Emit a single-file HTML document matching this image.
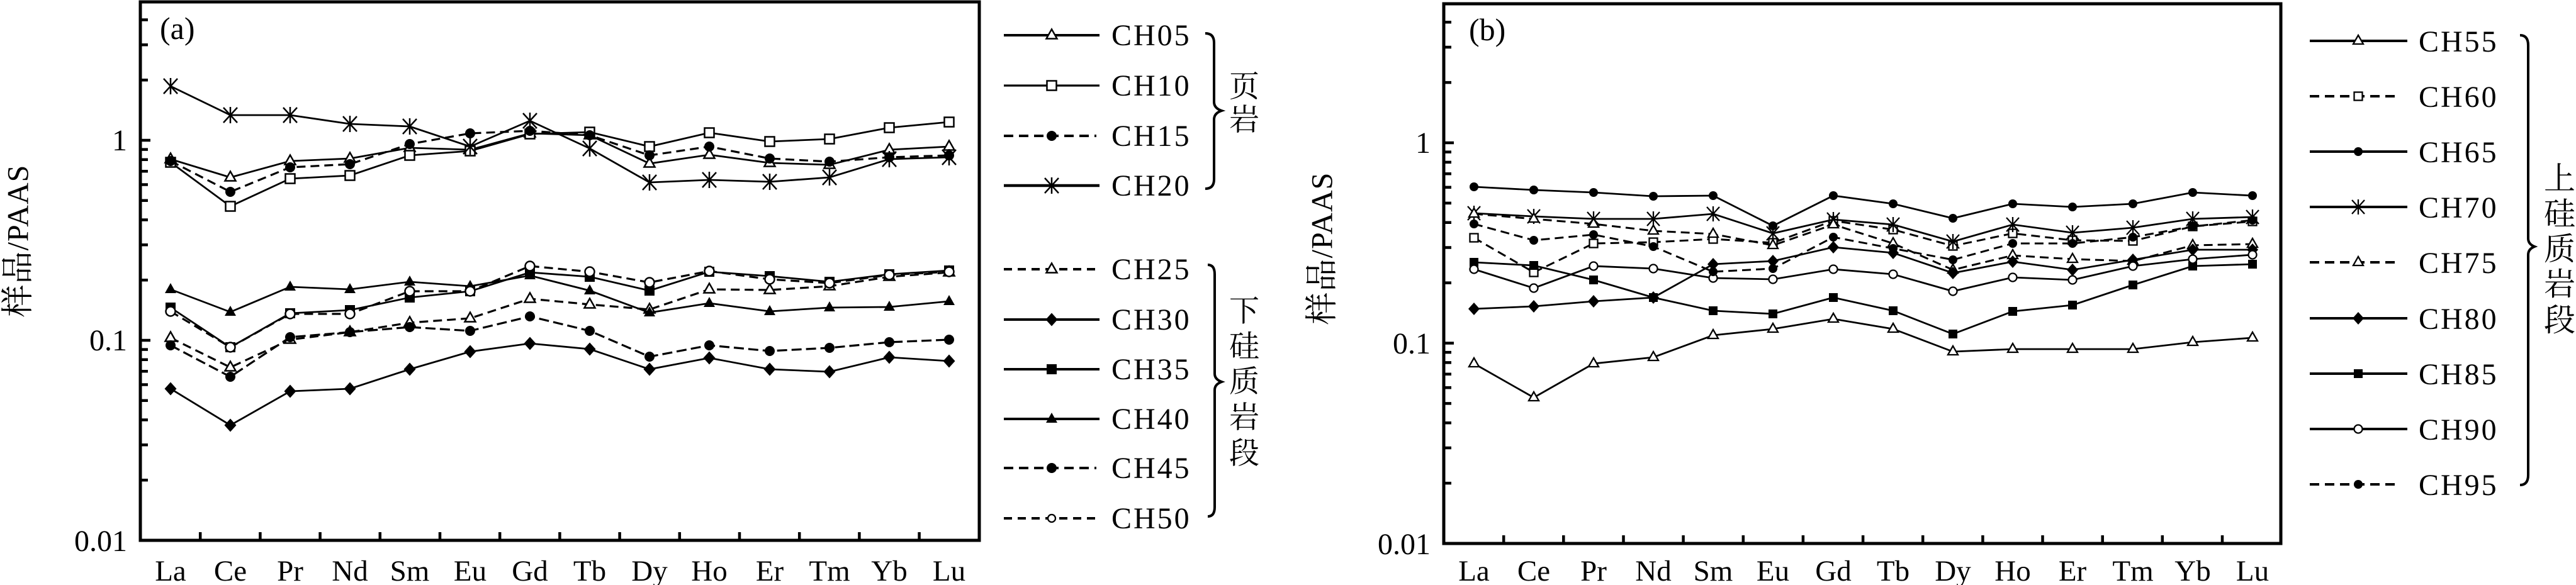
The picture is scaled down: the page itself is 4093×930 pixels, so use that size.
<!DOCTYPE html>
<html>
<head>
<meta charset="utf-8">
<style>
html,body{margin:0;padding:0;background:#fff;}
body{width:4093px;height:930px;overflow:hidden;}
svg{display:block;}
.t{font-family:"Liberation Serif","Noto Serif CJK SC",serif;fill:#000;}
</style>
</head>
<body>
<svg width="4093" height="930" viewBox="0 0 4093 930" xmlns="http://www.w3.org/2000/svg">
<defs>
  <!-- panel a markers -->
  <marker id="aTo" viewBox="-20 -20 40 40" markerWidth="40" markerHeight="40" refX="0" refY="0" markerUnits="userSpaceOnUse" orient="0"><polygon points="0,-9.5 8.5,5.5 -8.5,5.5" fill="#fff" stroke="#000" stroke-width="2.5"/></marker>
  <marker id="aTf" viewBox="-20 -20 40 40" markerWidth="40" markerHeight="40" refX="0" refY="0" markerUnits="userSpaceOnUse" orient="0"><polygon points="0,-10 9,6 -9,6" fill="#000"/></marker>
  <marker id="aSo" viewBox="-20 -20 40 40" markerWidth="40" markerHeight="40" refX="0" refY="0" markerUnits="userSpaceOnUse" orient="0"><rect x="-7.5" y="-7.5" width="15" height="15" fill="#fff" stroke="#000" stroke-width="2.5"/></marker>
  <marker id="aSf" viewBox="-20 -20 40 40" markerWidth="40" markerHeight="40" refX="0" refY="0" markerUnits="userSpaceOnUse" orient="0"><rect x="-8" y="-8" width="16" height="16" fill="#000"/></marker>
  <marker id="aCf" viewBox="-20 -20 40 40" markerWidth="40" markerHeight="40" refX="0" refY="0" markerUnits="userSpaceOnUse" orient="0"><circle r="8" fill="#000"/></marker>
  <marker id="aCo" viewBox="-20 -20 40 40" markerWidth="40" markerHeight="40" refX="0" refY="0" markerUnits="userSpaceOnUse" orient="0"><circle r="7.5" fill="#fff" stroke="#000" stroke-width="2.5"/></marker>
  <marker id="aD" viewBox="-20 -20 40 40" markerWidth="40" markerHeight="40" refX="0" refY="0" markerUnits="userSpaceOnUse" orient="0"><polygon points="0,-10.5 9.5,0 0,10.5 -9.5,0" fill="#000"/></marker>
  <marker id="aX" viewBox="-20 -20 40 40" markerWidth="40" markerHeight="40" refX="0" refY="0" markerUnits="userSpaceOnUse" orient="0"><g stroke="#000" stroke-width="2.5"><line x1="-11" y1="-12" x2="11" y2="12"/><line x1="11" y1="-12" x2="-11" y2="12"/><line x1="0" y1="-13" x2="0" y2="13"/></g></marker>
  <!-- panel b markers -->
  <marker id="bTo" viewBox="-20 -20 40 40" markerWidth="40" markerHeight="40" refX="0" refY="0" markerUnits="userSpaceOnUse" orient="0"><polygon points="0,-9 8,5 -8,5" fill="#fff" stroke="#000" stroke-width="2.3"/></marker>
  <marker id="bSo" viewBox="-20 -20 40 40" markerWidth="40" markerHeight="40" refX="0" refY="0" markerUnits="userSpaceOnUse" orient="0"><rect x="-6.5" y="-6.5" width="13" height="13" fill="#fff" stroke="#000" stroke-width="2.3"/></marker>
  <marker id="bSf" viewBox="-20 -20 40 40" markerWidth="40" markerHeight="40" refX="0" refY="0" markerUnits="userSpaceOnUse" orient="0"><rect x="-7" y="-7" width="14" height="14" fill="#000"/></marker>
  <marker id="bCf" viewBox="-20 -20 40 40" markerWidth="40" markerHeight="40" refX="0" refY="0" markerUnits="userSpaceOnUse" orient="0"><circle r="7" fill="#000"/></marker>
  <marker id="bCo" viewBox="-20 -20 40 40" markerWidth="40" markerHeight="40" refX="0" refY="0" markerUnits="userSpaceOnUse" orient="0"><circle r="6.5" fill="#fff" stroke="#000" stroke-width="2.3"/></marker>
  <marker id="bD" viewBox="-20 -20 40 40" markerWidth="40" markerHeight="40" refX="0" refY="0" markerUnits="userSpaceOnUse" orient="0"><polygon points="0,-10 9,0 0,10 -9,0" fill="#000"/></marker>
  <marker id="bX" viewBox="-20 -20 40 40" markerWidth="40" markerHeight="40" refX="0" refY="0" markerUnits="userSpaceOnUse" orient="0"><g stroke="#000" stroke-width="2.3"><line x1="-10" y1="-11" x2="10" y2="11"/><line x1="10" y1="-11" x2="-10" y2="11"/><line x1="0" y1="-12" x2="0" y2="12"/></g></marker>
  <!-- legend small markers -->
  <marker id="lCo" viewBox="-20 -20 40 40" markerWidth="40" markerHeight="40" refX="0" refY="0" markerUnits="userSpaceOnUse" orient="0"><circle r="6" fill="#fff" stroke="#000" stroke-width="2.3"/></marker>
</defs>

<!-- ================= PANEL A ================= -->
<g class="t" font-size="48">
  <text x="202" y="239" text-anchor="end">1</text>
  <text x="202" y="557" text-anchor="end">0.1</text>
  <text x="202" y="876" text-anchor="end">0.01</text>
  <text x="254" y="62" font-size="50">(a)</text>
</g>
<text class="t" font-size="48" transform="translate(29,383) rotate(-90)" text-anchor="middle" dominant-baseline="central" letter-spacing="1"><tspan font-size="52">样品</tspan>/PAAS</text>

<g class="t" font-size="47" text-anchor="middle">
  <text x="271" y="923">La</text><text x="366" y="923">Ce</text><text x="461" y="923">Pr</text><text x="556" y="923">Nd</text>
  <text x="651" y="923">Sm</text><text x="747" y="923">Eu</text><text x="842" y="923">Gd</text><text x="937" y="923">Tb</text>
  <text x="1032" y="923">Dy</text><text x="1127" y="923">Ho</text><text x="1223" y="923">Er</text><text x="1318" y="923">Tm</text>
  <text x="1413" y="923">Yb</text><text x="1508" y="923">Lu</text>
</g>

<g stroke="#000" stroke-width="4.5" fill="none">
  <!-- left ticks -->
  <path d="M223,763.3h12M223,707.3h12M223,667.5h12M223,636.7h12M223,611.5h12M223,590.3h12M223,571.8h12M223,555.6h12M223,541h16
           M223,445.3h12M223,389.3h12M223,349.5h12M223,318.7h12M223,293.5h12M223,272.3h12M223,253.8h12M223,237.6h12M223,223h16
           M223,127.3h12M223,71.3h12M223,31.5h12"/>
  <!-- bottom ticks -->
  <path d="M318.2,859v-13M413.4,859v-13M508.6,859v-13M603.8,859v-13M699,859v-13M794.2,859v-13M889.4,859v-13M984.6,859v-13M1079.8,859v-13M1175,859v-13M1270.2,859v-13M1365.4,859v-13M1460.6,859v-13"/>
</g>
<rect x="223" y="3" width="1333" height="856" fill="none" stroke="#000" stroke-width="5"/>

<g fill="none" stroke="#000" stroke-width="2.8">
  <polyline points="271,253 366,282 461,256 556,252 651,235 747,238 842,212 937,215 1032,260 1127,246 1223,259 1318,262 1413,238 1508,233" marker-start="url(#aTo)" marker-mid="url(#aTo)" marker-end="url(#aTo)"/>
  <polyline points="271,258 366,328 461,284 556,279 651,247 747,240 842,213 937,210 1032,233 1127,211 1223,225 1318,221 1413,203 1508,194" marker-start="url(#aSo)" marker-mid="url(#aSo)" marker-end="url(#aSo)"/>
  <polyline points="271,256 366,305 461,266 556,261 651,229 747,212 842,208 937,215 1032,247 1127,233 1223,252 1318,257 1413,250 1508,247" stroke-dasharray="14 8" stroke-width="3.2" marker-start="url(#aCf)" marker-mid="url(#aCf)" marker-end="url(#aCf)"/>
  <polyline points="271,137 366,183 461,183 556,197 651,201 747,233 842,192 937,236 1032,290 1127,286 1223,289 1318,282 1413,253 1508,250" marker-start="url(#aX)" marker-mid="url(#aX)" marker-end="url(#aX)"/>
  <polyline points="271,537 366,584 461,540 556,528 651,513 747,506 842,475 937,484 1032,492 1127,460 1223,461 1318,455 1413,440 1508,433" stroke-dasharray="14 8" stroke-width="3.2" marker-start="url(#aTo)" marker-mid="url(#aTo)" marker-end="url(#aTo)"/>
  <polyline points="271,618 366,676 461,622 556,618 651,587 747,559 842,546 937,555 1032,587 1127,569 1223,587 1318,591 1413,568 1508,574" marker-start="url(#aD)" marker-mid="url(#aD)" marker-end="url(#aD)"/>
  <polyline points="271,489 366,552 461,498 556,493 651,473 747,463 842,433 937,440 1032,462 1127,432 1223,439 1318,448 1413,436 1508,430" marker-start="url(#aSf)" marker-mid="url(#aSf)" marker-end="url(#aSf)"/>
  <polyline points="271,460 366,496 461,456 556,460 651,448 747,455 842,438 937,462 1032,497 1127,482 1223,495 1318,489 1413,488 1508,479" marker-start="url(#aTf)" marker-mid="url(#aTf)" marker-end="url(#aTf)"/>
  <polyline points="271,549 366,599 461,536 556,528 651,520 747,526 842,503 937,526 1032,567 1127,549 1223,558 1318,553 1413,544 1508,540" stroke-dasharray="16 7" stroke-width="3.2" marker-start="url(#aCf)" marker-mid="url(#aCf)" marker-end="url(#aCf)"/>
  <polyline points="271,495 366,552 461,499 556,499 651,463 747,463 842,423 937,432 1032,449 1127,431 1223,444 1318,450 1413,437 1508,432" stroke-dasharray="14 8" stroke-width="3.2" marker-start="url(#aCo)" marker-mid="url(#aCo)" marker-end="url(#aCo)"/>
</g>

<!-- legend a -->
<g fill="none" stroke="#000" stroke-width="4">
  <polyline points="1595,56 1671,56 1747,56" marker-mid="url(#aTo)"/>
  <polyline points="1595,136 1671,136 1747,136" stroke-width="3.2" marker-mid="url(#aSo)"/>
  <polyline points="1595,216 1671,216 1742,216" stroke-dasharray="15 9" marker-mid="url(#aCf)"/>
  <polyline points="1595,295 1671,295 1747,295" stroke-width="4.5" marker-mid="url(#aX)"/>
  <polyline points="1595,428 1671,428 1742,428" stroke-dasharray="13 9" marker-mid="url(#aTo)"/>
  <polyline points="1595,508 1671,508 1747,508" marker-mid="url(#aD)"/>
  <polyline points="1595,587 1671,587 1747,587" marker-mid="url(#aSf)"/>
  <polyline points="1595,666 1671,666 1747,666" marker-mid="url(#aTf)"/>
  <polyline points="1595,744 1671,744 1742,744" stroke-dasharray="15 9" marker-mid="url(#aCf)"/>
  <polyline points="1595,824 1671,824 1742,824" stroke-dasharray="13 9" marker-mid="url(#lCo)"/>
</g>
<g class="t" font-size="48" letter-spacing="3">
  <text x="1766" y="72">CH05</text>
  <text x="1766" y="152">CH10</text>
  <text x="1766" y="232">CH15</text>
  <text x="1766" y="311">CH20</text>
  <text x="1766" y="444">CH25</text>
  <text x="1766" y="524">CH30</text>
  <text x="1766" y="603">CH35</text>
  <text x="1766" y="682">CH40</text>
  <text x="1766" y="760">CH45</text>
  <text x="1766" y="840">CH50</text>
</g>
<g fill="none" stroke="#000" stroke-width="4">
  <path d="M1915,53 Q1929,53 1929,68 L1929,162 Q1929,172 1941,176 Q1929,180 1929,190 L1929,285 Q1929,300 1915,300"/>
  <path d="M1919,421 Q1930,421 1930,436 L1930,594 Q1930,603 1941,607 Q1930,611 1930,620 L1930,806 Q1930,821 1919,821"/>
</g>
<g class="t" font-size="48" text-anchor="middle" dominant-baseline="central">
  <text x="1977" y="138">页</text>
  <text x="1977" y="191">岩</text>
  <text x="1977" y="495">下</text>
  <text x="1977" y="551">硅</text>
  <text x="1977" y="607">质</text>
  <text x="1977" y="664">岩</text>
  <text x="1977" y="721">段</text>
</g>

<!-- ================= PANEL B ================= -->
<g class="t" font-size="48">
  <text x="2273" y="243" text-anchor="end">1</text>
  <text x="2273" y="562" text-anchor="end">0.1</text>
  <text x="2273" y="881" text-anchor="end">0.01</text>
  <text x="2334" y="64" font-size="50">(b)</text>
</g>
<text class="t" font-size="48" transform="translate(2101,395) rotate(-90)" text-anchor="middle" dominant-baseline="central" letter-spacing="1"><tspan font-size="52">样品</tspan>/PAAS</text>

<g class="t" font-size="47" text-anchor="middle">
  <text x="2342" y="923">La</text><text x="2437" y="923">Ce</text><text x="2532" y="923">Pr</text><text x="2627" y="923">Nd</text>
  <text x="2722" y="923">Sm</text><text x="2817" y="923">Eu</text><text x="2913" y="923">Gd</text><text x="3008" y="923">Tb</text>
  <text x="3103" y="923">Dy</text><text x="3198" y="923">Ho</text><text x="3293" y="923">Er</text><text x="3389" y="923">Tm</text>
  <text x="3484" y="923">Yb</text><text x="3579" y="923">Lu</text>
</g>

<g stroke="#000" stroke-width="4.5" fill="none">
  <path d="M2294,768.1h12M2294,712h12M2294,672.2h12M2294,641.4h12M2294,616.2h12M2294,594.8h12M2294,576.4h12M2294,560.1h12M2294,545.5h16
           M2294,449.6h12M2294,393.5h12M2294,353.7h12M2294,322.9h12M2294,297.7h12M2294,276.3h12M2294,257.9h12M2294,241.6h12M2294,227h16
           M2294,131.1h12M2294,75h12M2294,35.2h12"/>
  <path d="M2389.2,864v-13M2484.3,864v-13M2579.5,864v-13M2674.6,864v-13M2769.8,864v-13M2864.9,864v-13M2960.1,864v-13M3055.2,864v-13M3150.4,864v-13M3245.5,864v-13M3340.7,864v-13M3435.8,864v-13M3531,864v-13"/>
</g>
<rect x="2294" y="6" width="1330" height="858" fill="none" stroke="#000" stroke-width="5"/>

<g fill="none" stroke="#000" stroke-width="2.8">
  <polyline points="2342,578 2437,632 2532,578 2627,568 2722,533 2817,523 2913,507 3008,523 3103,559 3198,555 3293,555 3389,555 3484,544 3579,537" marker-start="url(#bTo)" marker-mid="url(#bTo)" marker-end="url(#bTo)"/>
  <polyline points="2342,378 2437,433 2532,387 2627,385 2722,380 2817,386 2913,351 3008,365 3103,391 3198,371 3293,382 3389,383 3484,360 3579,352" stroke-dasharray="14 8" stroke-width="3" marker-start="url(#bSo)" marker-mid="url(#bSo)" marker-end="url(#bSo)"/>
  <polyline points="2342,297 2437,302 2532,306 2627,312 2722,311 2817,359 2913,311 3008,324 3103,347 3198,324 3293,329 3389,324 3484,306 3579,311" marker-start="url(#bCf)" marker-mid="url(#bCf)" marker-end="url(#bCf)"/>
  <polyline points="2342,339 2437,344 2532,348 2627,348 2722,340 2817,371 2913,349 3008,357 3103,384 3198,357 3293,370 3389,362 3484,348 3579,345" marker-start="url(#bX)" marker-mid="url(#bX)" marker-end="url(#bX)"/>
  <polyline points="2342,340 2437,348 2532,356 2627,367 2722,372 2817,390 2913,357 3008,387 3103,429 3198,406 3293,412 3389,415 3484,390 3579,388" stroke-dasharray="14 8" stroke-width="3" marker-start="url(#bTo)" marker-mid="url(#bTo)" marker-end="url(#bTo)"/>
  <polyline points="2342,491 2437,487 2532,479 2627,473 2722,420 2817,415 2913,393 3008,402 3103,434 3198,416 3293,429 3389,413 3484,397 3579,397" marker-start="url(#bD)" marker-mid="url(#bD)" marker-end="url(#bD)"/>
  <polyline points="2342,417 2437,422 2532,445 2627,473 2722,494 2817,499 2913,473 3008,494 3103,531 3198,495 3293,485 3389,453 3484,423 3579,420" marker-start="url(#bSf)" marker-mid="url(#bSf)" marker-end="url(#bSf)"/>
  <polyline points="2342,428 2437,458 2532,423 2627,427 2722,442 2817,444 2913,428 3008,436 3103,463 3198,441 3293,445 3389,423 3484,412 3579,405" marker-start="url(#bCo)" marker-mid="url(#bCo)" marker-end="url(#bCo)"/>
  <polyline points="2342,356 2437,382 2532,373 2627,392 2722,432 2817,427 2913,377 3008,395 3103,413 3198,387 3293,387 3389,377 3484,360 3579,350" stroke-dasharray="14 8" stroke-width="3" marker-start="url(#bCf)" marker-mid="url(#bCf)" marker-end="url(#bCf)"/>
</g>

<!-- legend b -->
<g fill="none" stroke="#000" stroke-width="4">
  <polyline points="3670,65 3747,65 3825,65" marker-mid="url(#bTo)"/>
  <polyline points="3670,153 3747,153 3812,153" stroke-dasharray="15 9" marker-mid="url(#bSo)"/>
  <polyline points="3670,241 3747,241 3825,241" marker-mid="url(#bCf)"/>
  <polyline points="3670,329 3747,329 3825,329" marker-mid="url(#bX)"/>
  <polyline points="3670,417 3747,417 3812,417" stroke-dasharray="15 9" marker-mid="url(#bTo)"/>
  <polyline points="3670,506 3747,506 3825,506" marker-mid="url(#bD)"/>
  <polyline points="3670,594 3747,594 3825,594" marker-mid="url(#bSf)"/>
  <polyline points="3670,682 3747,682 3825,682" marker-mid="url(#bCo)"/>
  <polyline points="3670,770 3747,770 3812,770" stroke-dasharray="15 9" marker-mid="url(#bCf)"/>
</g>
<g class="t" font-size="48" letter-spacing="3">
  <text x="3843" y="82">CH55</text>
  <text x="3843" y="170">CH60</text>
  <text x="3843" y="258">CH65</text>
  <text x="3843" y="346">CH70</text>
  <text x="3843" y="434">CH75</text>
  <text x="3843" y="523">CH80</text>
  <text x="3843" y="611">CH85</text>
  <text x="3843" y="699">CH90</text>
  <text x="3843" y="787">CH95</text>
</g>
<path d="M4004,56 Q4017,56 4017,72 L4017,379 Q4017,388 4027,392 Q4017,396 4017,405 L4017,755 Q4017,771 4004,771" fill="none" stroke="#000" stroke-width="4"/>
<g class="t" font-size="50" text-anchor="middle" dominant-baseline="central">
  <text x="4067" y="284">上</text>
  <text x="4067" y="340">硅</text>
  <text x="4067" y="396">质</text>
  <text x="4067" y="452">岩</text>
  <text x="4067" y="509">段</text>
</g>
</svg>
</body>
</html>
